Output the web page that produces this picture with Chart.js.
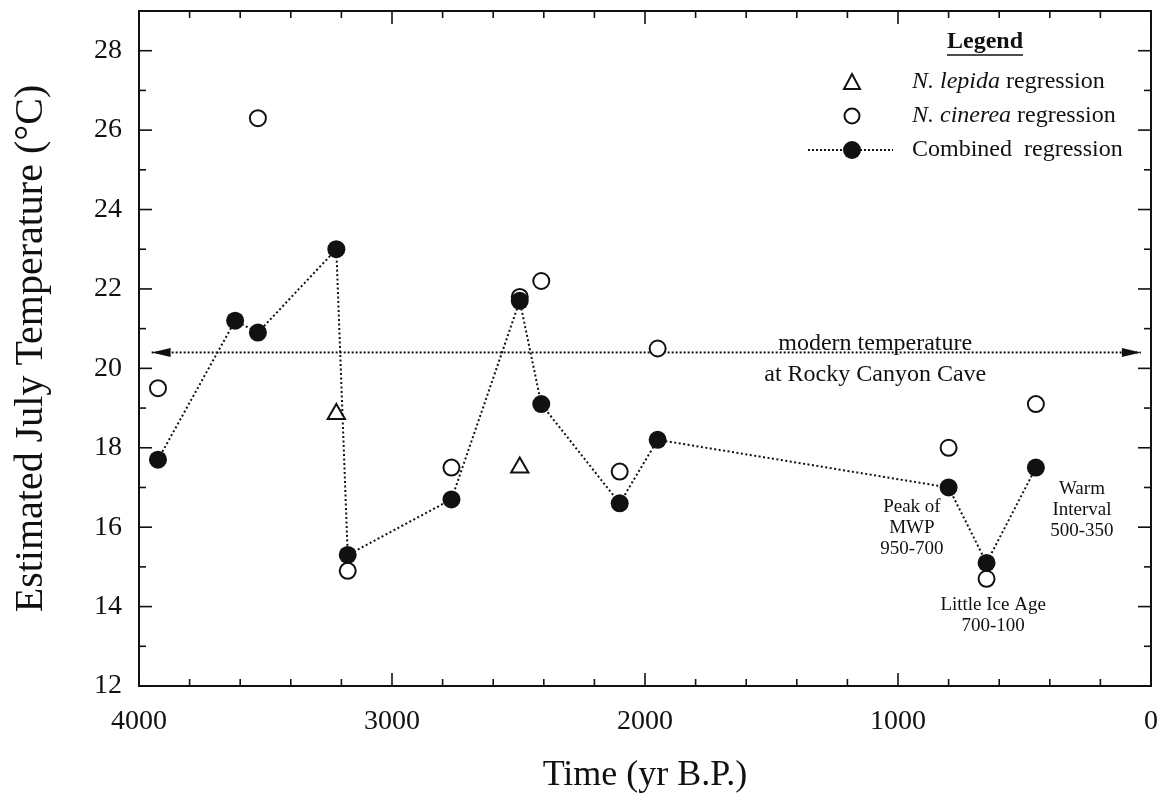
<!DOCTYPE html>
<html><head><meta charset="utf-8">
<script src="https://cdn.jsdelivr.net/npm/chart.js@4.4.1/dist/chart.umd.min.js"></script>
<style>html,body{margin:0;padding:0;background:#fff}#wrap{width:1158px;height:799px}</style>
</head><body><div id="wrap"><canvas id="c" width="1158" height="799"></canvas></div>
<script>
// ---- data ----
const combinedTime = [3925, 3620, 3530, 3220, 3175, 2765, 2495, 2410, 2100, 1950, 800, 650, 455];
const combinedTemp = [17.7, 21.2, 20.9, 23.0, 15.3, 16.7, 21.7, 19.1, 16.6, 18.2, 17.0, 15.1, 17.5];
const cinereaTime = [3925, 3530, 3175, 2765, 2495, 2410, 2100, 1950, 800, 650, 455];
const cinereaTemp = [19.5, 26.3, 14.9, 17.5, 21.8, 22.2, 17.4, 20.5, 18.0, 14.7, 19.1];
const lepidaTime = [3220, 2495];
const lepidaTemp = [18.85, 17.5];
const modernTime = [3950, 40];
const modernTemp = [20.4, 20.4];
const xTickValues = [4000, 3000, 2000, 1000, 0];
const xTickLabels = ['4000', '3000', '2000', '1000', '0'];
const yTickValues = [12, 14, 16, 18, 20, 22, 24, 26, 28];
const yTickLabels = ['12', '14', '16', '18', '20', '22', '24', '26', '28'];
const annotations = [
  {x: 1090, y: 20.4, lines: ['modern temperature', 'at Rocky Canyon Cave'], size: 24, base: 'onLine'},
  {x: 945, y: 16.5, lines: ['Peak of', 'MWP', '950-700'], size: 19},
  {x: 624, y: 14.04, lines: ['Little Ice Age', '700-100'], size: 19},
  {x: 273, y: 16.96, lines: ['Warm', 'Interval', '500-350'], size: 19}
];

const SERIF = "'Liberation Serif', 'Times New Roman', serif";
const INK = '#111';

function pts(xs, ys) { return xs.map((v, i) => ({x: v, y: ys[i]})); }

const decorPlugin = {
  id: 'decor',
  afterDatasetsDraw(chart) {
    const ctx = chart.ctx;
    const meta = chart.getDatasetMeta(3);
    const p0 = meta.data[0], p1 = meta.data[meta.data.length - 1];
    ctx.save();
    ctx.fillStyle = INK;
    const L = 19, H = 4.5;
    ctx.beginPath();
    ctx.moveTo(p0.x, p0.y); ctx.lineTo(p0.x + L, p0.y - H); ctx.lineTo(p0.x + L, p0.y + H); ctx.closePath(); ctx.fill();
    ctx.beginPath();
    ctx.moveTo(p1.x, p1.y); ctx.lineTo(p1.x - L, p1.y - H); ctx.lineTo(p1.x - L, p1.y + H); ctx.closePath(); ctx.fill();
    ctx.restore();
  },
  afterDraw(chart) {
    const {ctx, chartArea: a, scales: {x, y}} = chart;
    ctx.save();
    ctx.strokeStyle = INK;
    ctx.lineWidth = 2;
    ctx.strokeRect(a.left, a.top, a.right - a.left, a.bottom - a.top);
    ctx.lineWidth = 1.6;
    const seg = (x1, y1, x2, y2) => { ctx.beginPath(); ctx.moveTo(x1, y1); ctx.lineTo(x2, y2); ctx.stroke(); };
    for (let v = y.min; v < y.max; v += 1) {
      const len = (v % 2 === 0) ? 13 : 7;
      const py = y.getPixelForValue(v);
      seg(a.left, py, a.left + len, py);
      seg(a.right, py, a.right - len, py);
    }
    for (let v = x.min; v <= x.max; v += 200) {
      const len = (v % 1000 === 0) ? 13 : 7;
      const px = x.getPixelForValue(v);
      seg(px, a.bottom, px, a.bottom - len);
      seg(px, a.top, px, a.top + len);
    }

    ctx.fillStyle = INK;
    ctx.textAlign = 'center';
    annotations.forEach(an => {
      ctx.font = an.size + 'px ' + SERIF;
      const px = x.getPixelForValue(an.x);
      const py = y.getPixelForValue(an.y);
      if (an.base === 'onLine') {
        ctx.textBaseline = 'alphabetic';
        an.lines.forEach((t, i) => ctx.fillText(t, px, py - 2 + i * 31));
      } else {
        ctx.textBaseline = 'middle';
        const lh = an.size * 1.1;
        an.lines.forEach((t, i) => ctx.fillText(t, px, py + i * lh));
      }
    });

    const lx = 852, tx = 912;
    ctx.textAlign = 'center';
    ctx.textBaseline = 'middle';
    ctx.font = 'bold 24px ' + SERIF;
    ctx.fillText('Legend', 985, 42);
    const lw = ctx.measureText('Legend').width;
    ctx.lineWidth = 1.5;
    seg(985 - lw / 2, 55, 985 + lw / 2, 55);
    ctx.lineWidth = 2;
    ctx.beginPath();
    ctx.moveTo(lx, 74); ctx.lineTo(lx + 8, 89); ctx.lineTo(lx - 8, 89); ctx.closePath(); ctx.stroke();
    ctx.beginPath(); ctx.arc(lx, 116, 7.5, 0, Math.PI * 2); ctx.stroke();
    ctx.setLineDash([2, 2]);
    seg(808, 150, 893, 150);
    ctx.setLineDash([]);
    ctx.beginPath(); ctx.arc(lx, 150, 9, 0, Math.PI * 2); ctx.fill();
    ctx.textAlign = 'left';
    const mixed = (it, rest, yy) => {
      ctx.font = 'italic 24px ' + SERIF;
      ctx.fillText(it, tx, yy);
      const w = ctx.measureText(it).width;
      ctx.font = '24px ' + SERIF;
      ctx.fillText(rest, tx + w, yy);
    };
    mixed('N. lepida', ' regression', 82);
    mixed('N. cinerea', ' regression', 116);
    ctx.font = '24px ' + SERIF;
    ctx.fillText('Combined  regression', tx, 150);
    ctx.restore();
  }
};

new Chart(document.getElementById('c'), {
  type: 'scatter',
  data: {
    datasets: [
      {label: 'Combined regression', data: pts(combinedTime, combinedTemp), showLine: true,
       borderColor: INK, borderWidth: 2, borderDash: [2, 2.5], backgroundColor: INK,
       pointStyle: 'circle', pointRadius: 9, pointBorderWidth: 0, pointBackgroundColor: INK, order: 0},
      {label: 'N. cinerea regression', data: pts(cinereaTime, cinereaTemp), showLine: false,
       pointStyle: 'circle', pointRadius: 8, pointBorderWidth: 2, pointBorderColor: INK, pointBackgroundColor: '#fff', order: 1},
      {label: 'N. lepida regression', data: pts(lepidaTime, lepidaTemp), showLine: false,
       pointStyle: 'triangle', pointRadius: 10, pointBorderWidth: 2, pointBorderColor: INK, pointBackgroundColor: '#fff', order: 2},
      {label: 'modern temperature', data: pts(modernTime, modernTemp), showLine: true,
       borderColor: INK, borderWidth: 2, borderDash: [2, 2], pointRadius: 0, order: 3}
    ]
  },
  options: {
    responsive: false,
    animation: false,
    devicePixelRatio: 1,
    layout: {autoPadding: false, padding: {top: 11, right: 7, bottom: 2, left: 0}},
    plugins: {legend: {display: false}, tooltip: {enabled: false}},
    scales: {
      x: {
        type: 'linear', min: 0, max: 4000, reverse: true,
        grid: {display: false, drawTicks: false}, border: {display: false},
        afterBuildTicks: (s) => { s.ticks = xTickValues.map(v => ({value: v})); },
        ticks: {padding: 19, color: INK, font: {family: SERIF, size: 28}, maxRotation: 0,
                callback: (v) => xTickLabels[xTickValues.indexOf(v)]},
        title: {display: true, text: 'Time (yr B.P.)', color: INK, font: {family: SERIF, size: 36}, padding: {top: 0, bottom: 0}},
        afterFit: (s) => { s.height = 111; s.paddingLeft = 0; s.paddingRight = 0; }
      },
      y: {
        type: 'linear', min: 12, max: 29,
        grid: {display: false, drawTicks: false}, border: {display: false},
        afterBuildTicks: (s) => { s.ticks = yTickValues.map(v => ({value: v})); },
        ticks: {padding: 17, color: INK, font: {family: SERIF, size: 28},
                callback: (v) => yTickLabels[yTickValues.indexOf(v)]},
        title: {display: true, text: 'Estimated July Temperature (\u00B0C)', color: INK, font: {family: SERIF, size: 40}, padding: {top: 7, bottom: 0}},
        afterFit: (s) => { s.width = 139; s.paddingTop = 0; s.paddingBottom = 0; }
      }
    }
  },
  plugins: [decorPlugin]
});
</script>
</body></html>
